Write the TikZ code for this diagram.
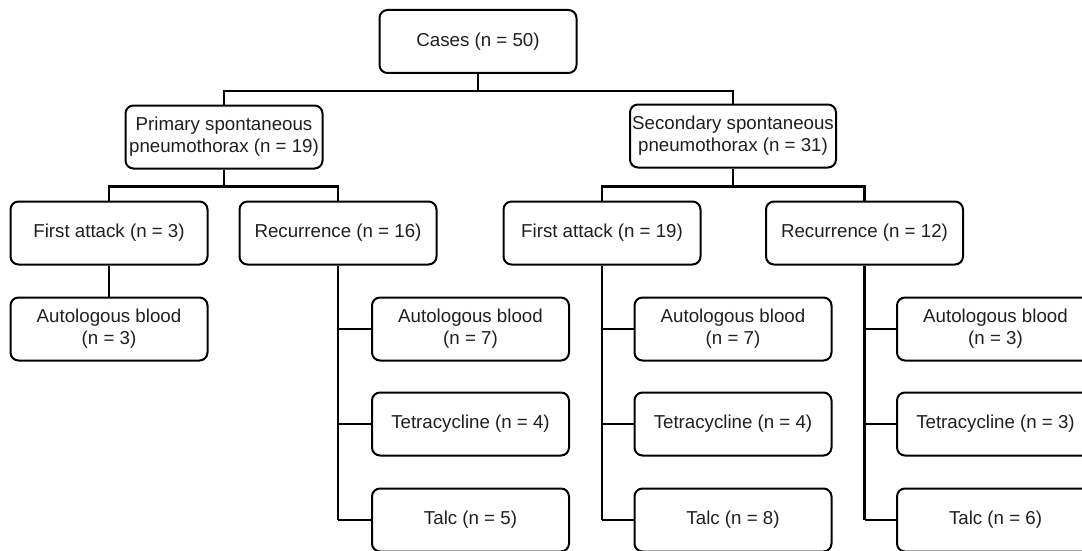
\documentclass[tikz,border=0pt]{standalone}
\usepackage{fontspec}
\setmainfont{Liberation Sans}
\begin{document}
\begin{tikzpicture}[x=1pt,y=-1pt,
  box/.style={draw=black, line width=2pt, rounded corners=8pt, minimum width=197pt,
    minimum height=63pt, align=center, inner sep=0pt,
    font=\fontsize{18.7}{22}\selectfont, text=black!88},
  trunk/.style={draw=black, line width=2.8pt},
  stem/.style={draw=black, line width=2pt}]
\useasboundingbox (0,0) rectangle (1082,551);
\clip (0,0) rectangle (1082,551);
% level 0
\node[box] (cases) at (478,41.5) {Cases (n = 50)};
% level 1
\node[box] (prim) at (224,137) {Primary spontaneous\\pneumothorax (n = 19)};
\node[box, minimum width=206pt] (sec) at (733,136) {Secondary spontaneous\\pneumothorax (n = 31)};
% level 2
\node[box] (fa1) at (109,233) {First attack (n = 3)};
\node[box] (rec1) at (338,233) {Recurrence (n = 16)};
\node[box] (fa2) at (602,233) {First attack (n = 19)};
\node[box] (rec2) at (864.5,233) {Recurrence (n = 12)};
% level 3
\node[box] (ab1) at (109,329) {Autologous blood\\(n = 3)};
\node[box] (ab2) at (470.5,329) {Autologous blood\\(n = 7)};
\node[box] (tet2) at (470.5,424) {Tetracycline (n = 4)};
\node[box] (talc2) at (470.5,520) {Talc (n = 5)};
\node[box] (ab3) at (733,329) {Autologous blood\\(n = 7)};
\node[box] (tet3) at (733,424) {Tetracycline (n = 4)};
\node[box] (talc3) at (733,520) {Talc (n = 8)};
\node[box] (ab4) at (995.5,329) {Autologous blood\\(n = 3)};
\node[box] (tet4) at (995.5,424) {Tetracycline (n = 3)};
\node[box] (talc4) at (995.5,520) {Talc (n = 6)};
% connectors
\draw[trunk] (cases.south) -- ++(0,17) -| (prim.north);
\draw[trunk] (cases.south) -- ++(0,17) -| (sec.north);
\draw[trunk] (prim.south) -- ++(0,17) -| (fa1.north);
\draw[trunk] (prim.south) -- ++(0,17) -| (rec1.north);
\draw[trunk] (sec.south) -- ++(0,18) -| (fa2.north);
\draw[trunk] (sec.south) -- ++(0,18) -| (rec2.north);
\draw[stem] (fa1.south) -- (ab1.north);
\foreach \p/\a/\b/\c in {rec1/ab2/tet2/talc2, fa2/ab3/tet3/talc3, rec2/ab4/tet4/talc4}{
  \draw[trunk] (\p.south) -- (\p.south |- \c.west);
  \draw[stem] (\p.south |- \a.west) -- (\a.west);
  \draw[stem] (\p.south |- \b.west) -- (\b.west);
  \draw[stem] (\p.south |- \c.west) -- (\c.west);
}
\end{tikzpicture}
\end{document}
